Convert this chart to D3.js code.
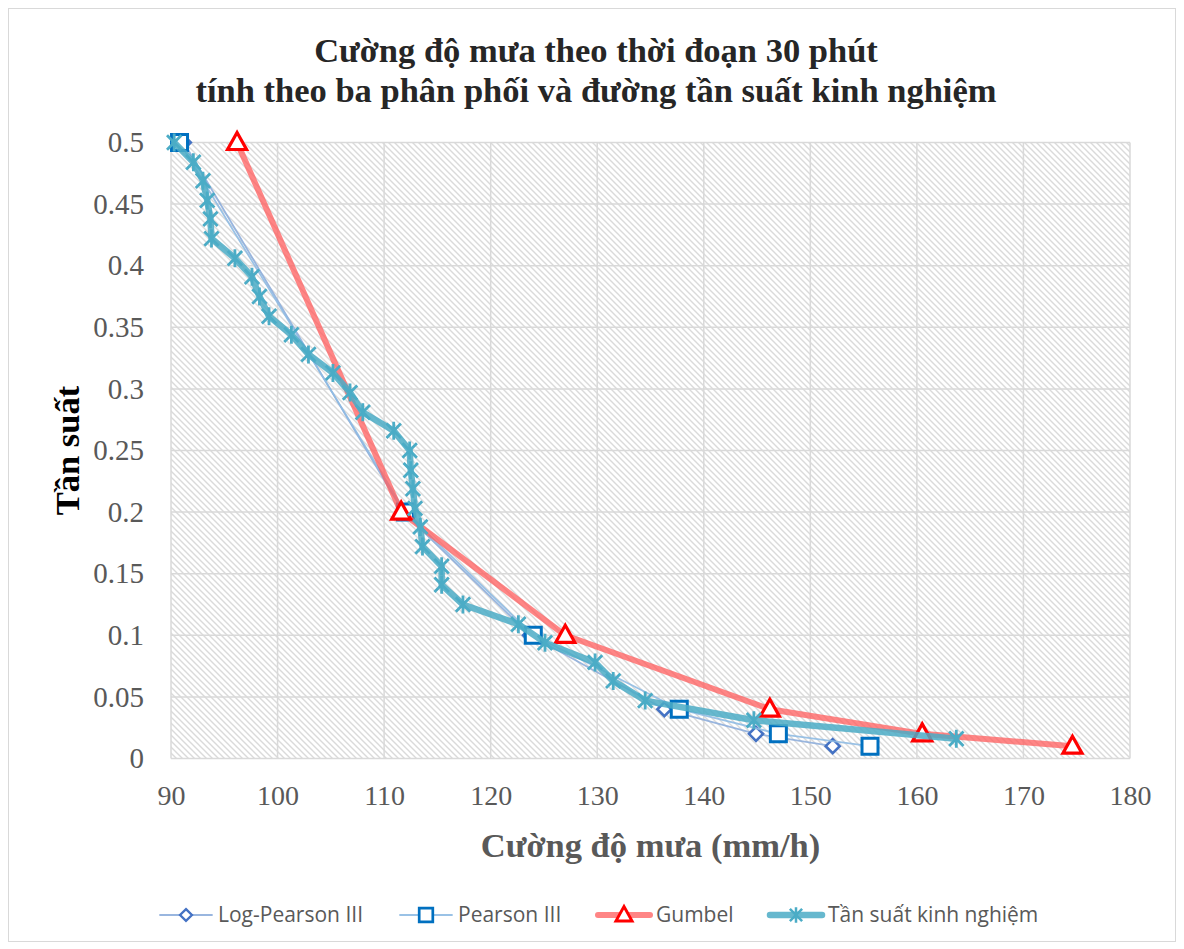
<!DOCTYPE html>
<html><head><meta charset="utf-8">
<script src="https://cdn.jsdelivr.net/npm/d3@7"></script>
<style>body{margin:0;background:#fff}svg{display:block}</style>
</head><body>
<svg id="c" width="1184" height="949"></svg>
<script>
// ---- data ----
const titleLines = ["Cường độ mưa theo thời đoạn 30 phút", "tính theo ba phân phối và đường tần suất kinh nghiệm"];
const xTitle = "Cường độ mưa (mm/h)";
const yTitle = "Tần suất";
const xTicks = [90,100,110,120,130,140,150,160,170,180];
const yTicks = [0,0.05,0.1,0.15,0.2,0.25,0.3,0.35,0.4,0.45,0.5];
const yTickLabels = ["0","0.05","0.1","0.15","0.2","0.25","0.3","0.35","0.4","0.45","0.5"];
const seriesNames = ["Log-Pearson III","Pearson III","Gumbel","Tần suất kinh nghiệm"];
const distFreq = [0.5,0.2,0.1,0.04,0.02,0.01];
const logPearson = [91.2,111.8,123.7,136.3,144.9,152.1];
const pearson = [90.8,112.0,124.0,137.7,147.0,155.6];
const gumbel = [96.2,111.6,127.0,146.2,160.5,174.6];
const empFreq = [0.5,0.484,0.469,0.453,0.438,0.422,0.406,0.391,0.375,0.359,0.344,0.328,0.313,0.297,0.281,0.266,0.25,0.234,0.219,0.203,0.188,0.172,0.156,0.141,0.125,0.109,0.094,0.078,0.063,0.047,0.031,0.016];
const empValues = [90.3,92.1,93.0,93.4,93.7,93.8,96.0,97.6,98.3,99.2,101.3,102.9,105.2,106.8,108.0,110.9,112.4,112.5,112.7,112.9,113.4,113.6,115.4,115.4,117.4,122.6,125.1,129.8,131.5,134.5,144.7,163.7];

// ---- layout ----
const svg = d3.select("#c");
const L = 171, R = 1130, T = 142.5, B = 758.5;
const x = d3.scaleLinear().domain([90,180]).range([L,R]);
const y = d3.scaleLinear().domain([0,0.5]).range([B,T]);
const serif = "'Liberation Serif','Times New Roman',serif";
const sans = "'Open Sans','Liberation Sans',sans-serif";

// outer border
svg.append("rect").attr("x",8.5).attr("y",8.5).attr("width",1167).attr("height",933)
  .attr("fill","#fff").attr("stroke","#d9d9d9").attr("stroke-width",1);

// hatch pattern
const defs = svg.append("defs");
const pat = defs.append("pattern").attr("id","hatch").attr("patternUnits","userSpaceOnUse")
  .attr("width",6).attr("height",6);
pat.append("rect").attr("width",6).attr("height",6).attr("fill","#fff");
pat.append("path").attr("d","M0,0 L6,6 M-1,5 L1,7 M5,-1 L7,1")
  .attr("stroke","#dadada").attr("stroke-width",1.4);

svg.append("rect").attr("x",L).attr("y",T).attr("width",R-L).attr("height",B-T).attr("fill","url(#hatch)");

// gridlines
const g = svg.append("g");
g.selectAll("line.gx").data(xTicks).join("line").attr("class","gx")
  .attr("x1",d=>x(d)).attr("x2",d=>x(d)).attr("y1",T).attr("y2",B)
  .attr("stroke","#d9d9d9").attr("stroke-width",1.5);
g.selectAll("line.gy").data(yTicks).join("line").attr("class","gy")
  .attr("x1",L).attr("x2",R).attr("y1",d=>y(d)).attr("y2",d=>y(d))
  .attr("stroke","#d9d9d9").attr("stroke-width",1.5);

// axes tick labels via d3 axes
const xAxis = d3.axisBottom(x).tickValues(xTicks).tickSize(0).tickPadding(0).tickFormat(d3.format("d"));
const gx = svg.append("g").attr("transform",`translate(0,${B+27})`).call(xAxis);
gx.select(".domain").remove();
gx.selectAll("text").attr("font-family",serif).attr("font-size",28).attr("fill","#595959").attr("dy","0.71em").attr("y",0);

const yAxis = d3.axisLeft(y).tickValues(yTicks).tickSize(0).tickPadding(0).tickFormat((d,i)=>yTickLabels[i]);
const gy = svg.append("g").attr("transform",`translate(${L-27},0)`).call(yAxis);
gy.select(".domain").remove();
gy.selectAll("text").attr("font-family",serif).attr("font-size",29).attr("fill","#595959").attr("x",0);

// titles
svg.append("g").selectAll("text").data(titleLines).join("text")
  .attr("x",596).attr("y",(d,i)=>62+i*40).attr("text-anchor","middle")
  .attr("font-family",serif).attr("font-weight","bold").attr("font-size",34.5).attr("fill","#262626")
  .text(d=>d);
svg.append("text").attr("x",(L+R)/2).attr("y",857).attr("text-anchor","middle")
  .attr("font-family",serif).attr("font-weight","bold").attr("font-size",34.5).attr("fill","#595959").text(xTitle);
svg.append("text").attr("transform",`translate(79,${(T+B)/2}) rotate(-90)`).attr("text-anchor","middle")
  .attr("font-family",serif).attr("font-weight","bold").attr("font-size",34.5).attr("fill","#000").text(yTitle);

// marker shapes
function diamond(s){return `M0,${-s} L${s},0 L0,${s} L${-s},0 Z`;}
function square(s){return `M${-s},${-s} H${s} V${s} H${-s} Z`;}
function triangle(s){return `M0,${-s} L${s*0.95},${s*0.7} L${-s*0.95},${s*0.7} Z`;}
function star(s){return `M${-s},${-s} L${s},${s} M${s},${-s} L${-s},${s} M0,${-s*1.25} V${s*1.25}`;}

const series = [
  {name:seriesNames[0], xs:logPearson, ys:distFreq, line:"#8eaedc", lw:1.8, lop:0.9, shape:diamond, ms:7, mstroke:"#4472c4", msw:2.6, fill:"#fff"},
  {name:seriesNames[1], xs:pearson, ys:distFreq, line:"#8fbbe3", lw:1.8, lop:0.9, shape:square, ms:8, mstroke:"#0070c0", msw:3, fill:"#fff"},
  {name:seriesNames[2], xs:gumbel, ys:distFreq, line:"#ff5c5c", lw:6, lop:0.75, shape:triangle, ms:10, mstroke:"#ff0000", msw:3.2, fill:"#fff"},
  {name:seriesNames[3], xs:empValues, ys:empFreq, line:"#4bacc6", lw:6.5, lop:0.85, shape:star, ms:7.2, mstroke:"#4bacc6", msw:2.8, fill:"none"}
];

const lineGen = d3.line().x(d=>x(d[0])).y(d=>y(d[1]));
series.forEach(s=>{
  const pts = s.xs.map((v,i)=>[v,s.ys[i]]);
  const sg = svg.append("g");
  sg.append("path").attr("d",lineGen(pts)).attr("fill","none").attr("stroke",s.line)
    .attr("stroke-width",s.lw).attr("stroke-opacity",s.lop).attr("stroke-linejoin","round").attr("stroke-linecap","round");
  sg.selectAll("path.m").data(pts).join("path").attr("class","m")
    .attr("transform",d=>`translate(${x(d[0])},${y(d[1])})`)
    .attr("d",s.shape(s.ms)).attr("fill",s.fill).attr("stroke",s.mstroke).attr("stroke-width",s.msw);
});

// legend
const legX = [160, 400, 598, 770];
const leg = svg.append("g").attr("transform","translate(0,915)");
series.forEach((s,i)=>{
  const lg = leg.append("g").attr("transform",`translate(${legX[i]},0)`);
  const wl = 52;
  lg.append("line").attr("x1",0).attr("x2",wl).attr("y1",0).attr("y2",0).attr("stroke",s.line)
    .attr("stroke-width",s.lw).attr("stroke-opacity",s.lop).attr("stroke-linecap","round");
  lg.append("path").attr("transform",`translate(${wl/2},0)`).attr("d",s.shape(s.ms*0.85))
    .attr("fill",s.fill).attr("stroke",s.mstroke).attr("stroke-width",s.msw*0.9);
  lg.append("text").attr("x",wl+6).attr("y",0).attr("dy","0.35em")
    .attr("font-family",sans).attr("font-size",21).attr("fill","#595959").text(s.name);
});
</script>
</body></html>
